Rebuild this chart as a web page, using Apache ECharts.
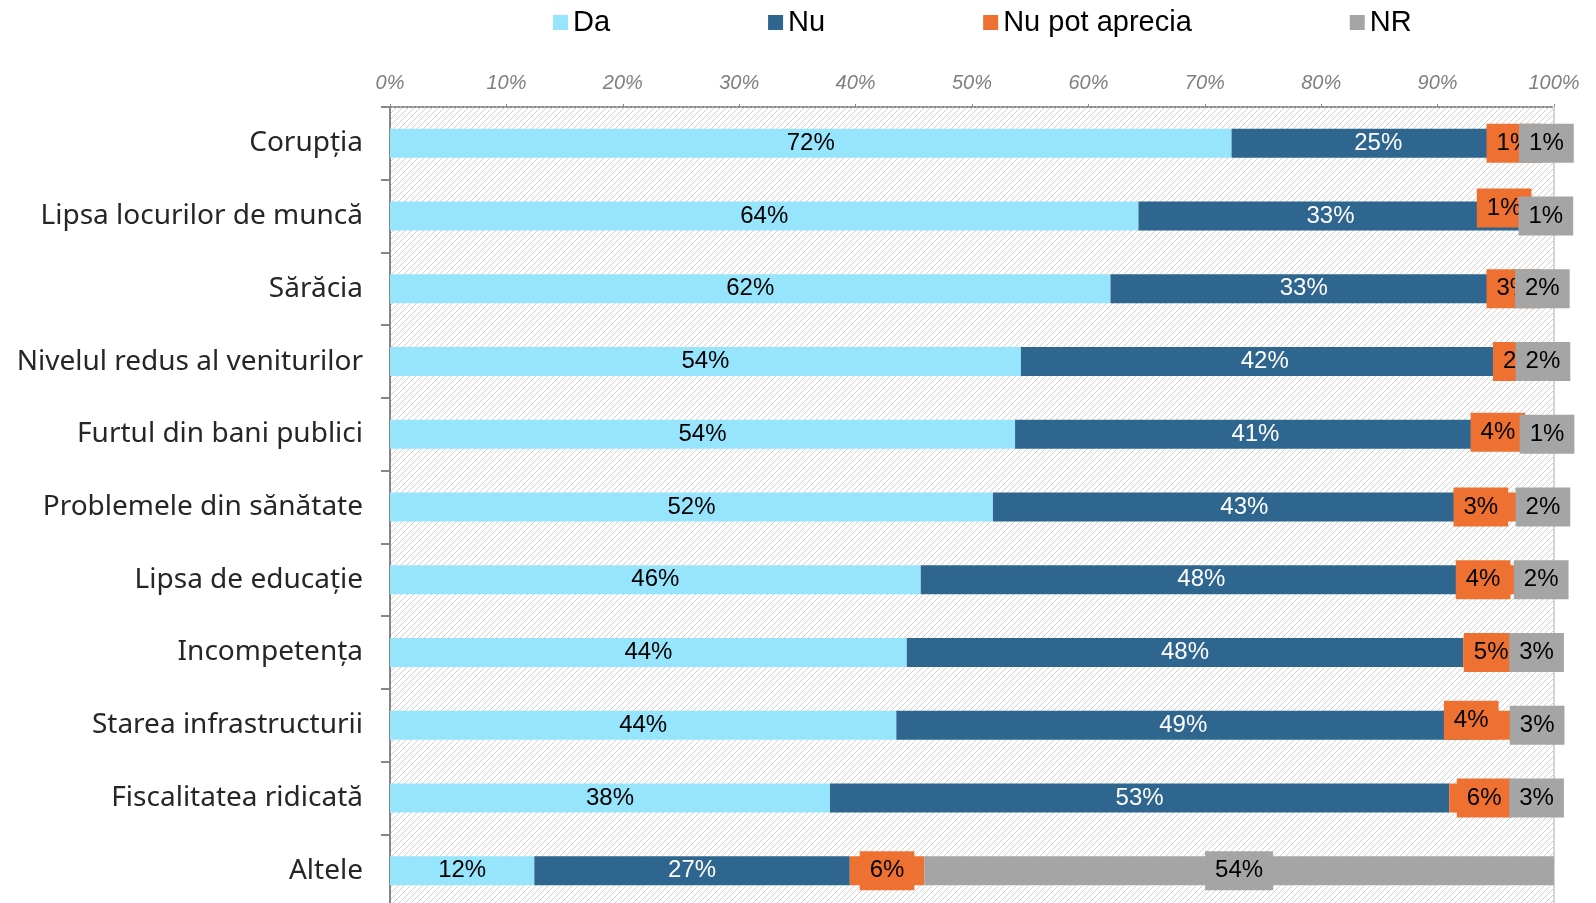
<!DOCTYPE html>
<html>
<head>
<meta charset="utf-8">
<script src="https://cdn.jsdelivr.net/npm/echarts@6/dist/echarts.min.js"></script>
<style>
html,body{margin:0;padding:0;background:#fff;}
#chart{width:1596px;height:903px;}
</style>
</head>
<body>
<div id="chart"></div>
<script>
// ---- data ----
const categories = [
  "Corupția",
  "Lipsa locurilor de muncă",
  "Sărăcia",
  "Nivelul redus al veniturilor",
  "Furtul din bani publici",
  "Problemele din sănătate",
  "Lipsa de educație",
  "Incompetența",
  "Starea infrastructurii",
  "Fiscalitatea ridicată",
  "Altele"
];
const seriesNames = ["Da", "Nu", "Nu pot aprecia", "NR"];
const da  = [72.3, 64.3, 61.9, 54.2, 53.7, 51.8, 45.6, 44.4, 43.5, 37.8, 12.4];
const nu  = [25.2, 33.0, 33.2, 41.9, 41.3, 43.2, 48.2, 47.8, 49.3, 53.2, 27.1];
const npa = [1.2, 1.3, 2.9, 2.0, 3.8, 3.1, 4.0, 4.8, 4.3, 6.0, 6.4];
const nr  = [1.3, 1.4, 2.0, 1.9, 1.2, 1.9, 2.2, 3.0, 2.9, 3.0, 54.1];
const tickValues = [0, 10, 20, 30, 40, 50, 60, 70, 80, 90, 100];

// ---- styling ----
const colors = ["#97E4FD", "#2E668F", "#EE7131", "#A5A5A5"];
const labelFont = "Liberation Sans";
// manual nudges of the "Nu pot aprecia" label boxes (as in the original)
const npaLabelDx = [-18, -26, 0, 0, -20, -33, -22, 0, -24, 0, 0];
const npaLabelDy = [0, -8, 0, 0, -2, 0, 0, 0, -5, 0, 0];

function hatch() {
  const s = 6;
  const c = document.createElement("canvas");
  c.width = s; c.height = s;
  const g = c.getContext("2d");
  g.fillStyle = "#ffffff";
  g.fillRect(0, 0, s, s);
  g.strokeStyle = "#cfcfcf";
  g.lineWidth = 1;
  for (let k = -1; k <= 1; k++) {
    g.beginPath();
    g.moveTo(k * s, s);
    g.lineTo(k * s + s, 0);
    g.stroke();
  }
  return c;
}

const fmt = p => Math.round(p.value) + "%";

function makeSeries(i, data, labelColor, boxed) {
  const label = {
    show: true,
    position: "inside",
    formatter: fmt,
    color: labelColor,
    fontSize: 24,
    fontFamily: labelFont
  };
  if (boxed) {
    label.backgroundColor = colors[i];
    label.padding = [7, 10, 7, 10];
    label.lineHeight = 25;
  }
  return {
    name: seriesNames[i],
    type: "bar",
    stack: "total",
    barWidth: 29,
    z: 3,
    data: data,
    itemStyle: { color: colors[i] },
    label: label,
    emphasis: { disabled: true }
  };
}

const npaData = npa.map((v, i) => ({
  value: v,
  label: { offset: [npaLabelDx[i], npaLabelDy[i]] }
}));

const series = [
  makeSeries(0, da, "#000000", false),
  makeSeries(1, nu, "#ffffff", false),
  makeSeries(2, npaData, "#000000", true),
  makeSeries(3, nr, "#000000", true),
  {
    type: "line",
    data: [],
    z: 1,
    silent: true,
    markLine: {
      silent: true,
      symbol: "none",
      z: 1,
      label: { show: false },
      lineStyle: { color: "#d4d4d4", width: 2, type: "solid" },
      data: [{ xAxis: tickValues[tickValues.length - 1] }]
    }
  }
];

const chart = echarts.init(document.getElementById("chart"), null, { renderer: "canvas" });
chart.setOption({
  animation: false,
  color: colors,
  legend: {
    data: seriesNames,
    left: 548,
    top: 3,
    itemWidth: 15,
    itemHeight: 15,
    itemGap: 158,
    icon: "rect",
    textStyle: { fontSize: 29, fontFamily: labelFont, color: "#000" }
  },
  grid: {
    left: 390,
    right: 42,
    top: 107,
    height: 800,
    outerBoundsMode: "none",
    containLabel: false,
    show: true,
    borderWidth: 0,
    backgroundColor: { image: hatch(), repeat: "repeat" }
  },
  xAxis: {
    type: "value",
    position: "top",
    min: tickValues[0],
    max: tickValues[tickValues.length - 1],
    interval: 10,
    axisLine: { show: true, lineStyle: { color: "#8a8a8a", width: 2, type: "dotted" } },
    axisTick: { show: true, length: 3, lineStyle: { color: "#8a8a8a", width: 1 } },
    splitLine: { show: false },
    axisLabel: {
      formatter: "{value}%",
      fontSize: 20,
      fontStyle: "italic",
      fontFamily: labelFont,
      color: "#7f7f7f",
      margin: 14
    }
  },
  yAxis: {
    type: "category",
    data: categories,
    inverse: true,
    axisLine: { show: true, lineStyle: { color: "#868686", width: 2 } },
    axisTick: { show: true, length: 9, lineStyle: { color: "#868686", width: 2 } },
    axisLabel: {
      fontSize: 28,
      fontFamily: "Noto Sans",
      color: "#262626",
      margin: 27
    }
  },
  series: series
});
</script>
</body>
</html>
